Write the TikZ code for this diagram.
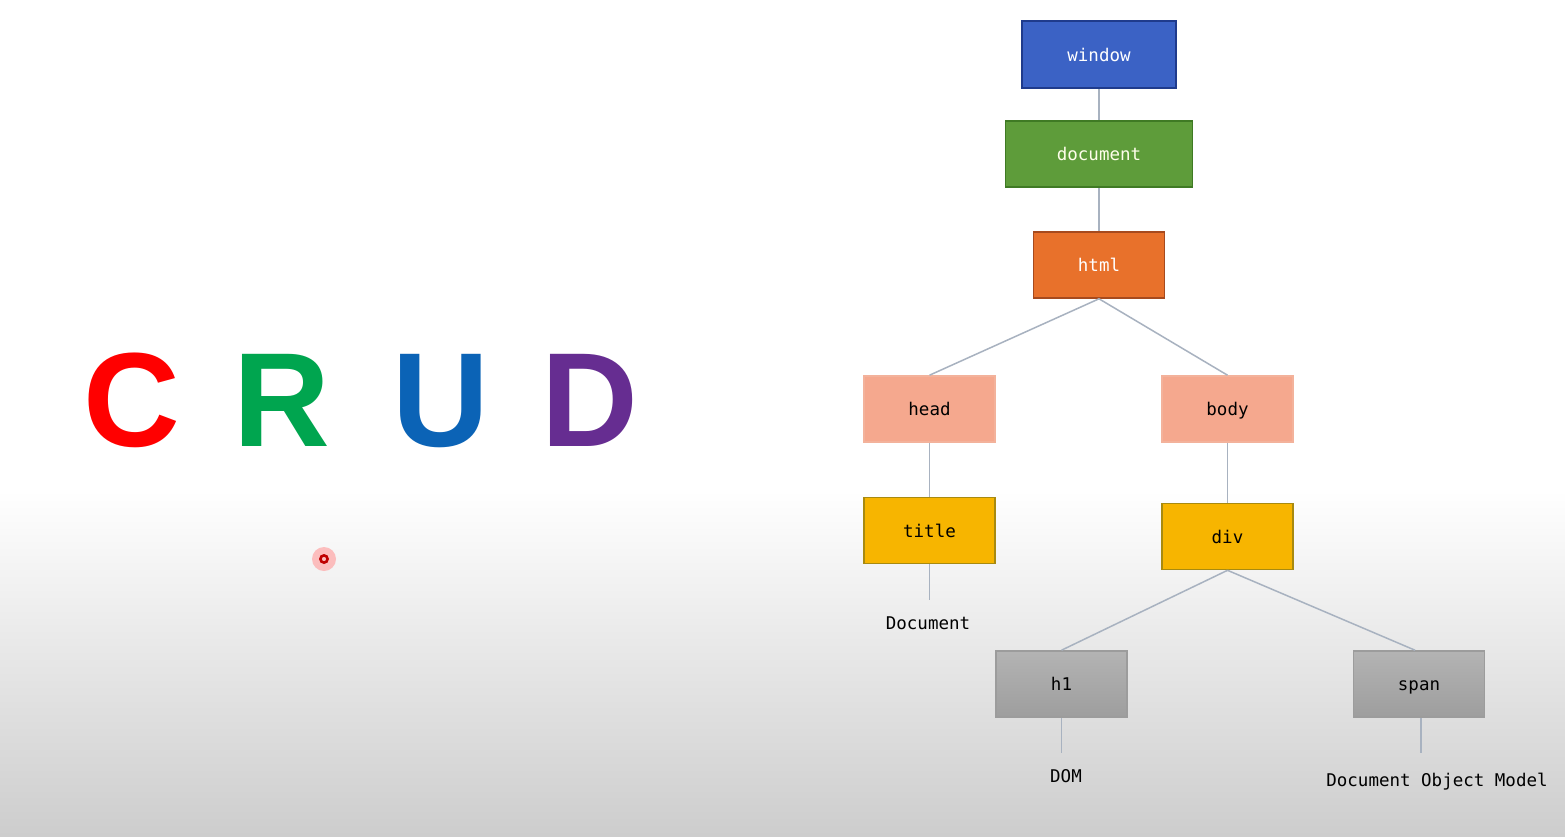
\documentclass[tikz,border=0pt]{standalone}
\usepackage{fontspec}
\setmainfont{Liberation Sans}
\setmonofont{DejaVu Sans Mono}
\usepackage{tikz}
\usetikzlibrary{positioning}

\definecolor{winblue}{HTML}{3B62C5}
\definecolor{winedge}{HTML}{1F3B8C}
\definecolor{docgreen}{HTML}{5E9C3A}
\definecolor{docedge}{HTML}{3F7A24}
\definecolor{htmlorange}{HTML}{E8712B}
\definecolor{htmledge}{HTML}{A64A1E}
\definecolor{salmon}{HTML}{F5A88E}
\definecolor{salmonedge}{HTML}{F3B29B}
\definecolor{gold}{HTML}{F7B500}
\definecolor{goldedge}{HTML}{A88A10}
\definecolor{greybox}{HTML}{A6A6A6}
\definecolor{greyedge}{HTML}{9C9C9C}
\definecolor{linkgrey}{HTML}{A8B2C0}
\definecolor{crudred}{HTML}{FF0000}
\definecolor{crudgreen}{HTML}{00A54F}
\definecolor{crudblue}{HTML}{0B63B6}
\definecolor{crudpurple}{HTML}{662D91}
\definecolor{floorgrey}{HTML}{CDCDCD}

\begin{document}
\begin{tikzpicture}[
    x=1pt, y=-1pt,
    tag/.style={draw, line width=1.6pt, minimum width=131pt, minimum height=66pt, inner sep=0pt,
      text height=13pt, text depth=0pt, font=\fontsize{17.5}{21}\selectfont\ttfamily},
    leaf/.style={inner sep=0pt, font=\fontsize{17.5}{21}\selectfont\ttfamily},
    letter/.style={anchor=base, inner sep=0pt, font=\fontsize{134}{150}\selectfont\bfseries},
    link/.style={draw=linkgrey, line width=1.5pt}
  ]
    % Background
    \useasboundingbox (0,0) rectangle (1565,836);
    \fill[white] (0,0) rectangle (1565,490);
    \shade[top color=white, bottom color=floorgrey] (0,490) rectangle (1565,836);

    % CRUD
    \node[letter, text=crudred] (lc) at (132,446) {C};
    \node[letter, text=crudgreen] (lr) at (282,446) {R};
    \node[letter, text=crudblue] (lu) at (441,446) {U};
    \node[letter, text=crudpurple] (ld) at (590,446) {D};

    % Pointer
    \fill[red!35, opacity=0.7] (324,559) circle (12);
    \draw[red!75!black, line width=2.6pt] (324,559) circle (3.6);

    % Tree
    \node[tag, fill=winblue, draw=winedge, text=white, minimum width=154pt, minimum height=67pt] (window) at (1099,54.5) {window};
    \node[tag, fill=docgreen, draw=docedge, text=white!92!yellow, minimum width=187pt] (document) at (1099,154) {document};
    \node[tag, fill=htmlorange, draw=htmledge, text=white] (html) at (1099,265) {html};
    \node[tag, fill=salmon, draw=salmonedge] (head) at (929.5,409) {head};
    \node[tag, fill=salmon, draw=salmonedge] (body) at (1227.5,409) {body};
    \node[tag, fill=gold, draw=goldedge] (title) at (929.5,530.5) {title};
    \node[tag, fill=gold, draw=goldedge] (div) at (1227.5,536.5) {div};
    \node[tag, top color=greybox!85!white, bottom color=greybox!95!black, draw=greyedge] (h1) at (1061.5,684) {h1};
    \node[tag, top color=greybox!85!white, bottom color=greybox!95!black, draw=greyedge] (span) at (1419,684) {span};

    % Leaf texts
    \node[leaf] (doctext) at (928,623) {Document};
    \node[leaf] (domtext) at (1066,776) {DOM};
    \node[leaf] (fulltext) at (1437,782) {Document Object Model};
    \coordinate (doctop) at (929.5,600);
    \coordinate (domtop) at (1061.5,753);
    \coordinate (fulltop) at (1421,753);

    % Links
    \draw[link] (window.south) -- (document.north);
    \draw[link] (document.south) -- (html.north);
    \draw[link] (html.south) -- (head.north);
    \draw[link] (html.south) -- (body.north);
    \draw[link] (head.south) -- (title.north);
    \draw[link] (body.south) -- (div.north);
    \draw[link] (div.south) -- ([xshift=-4pt]span.north);
    \draw[link] (div.south) -- (h1.north);
    \draw[link] (title.south) -- (doctop);
    \draw[link] (h1.south) -- (domtop);
    \draw[link] (span.south -| fulltop) -- (fulltop);
  \end{tikzpicture}
\end{document}
